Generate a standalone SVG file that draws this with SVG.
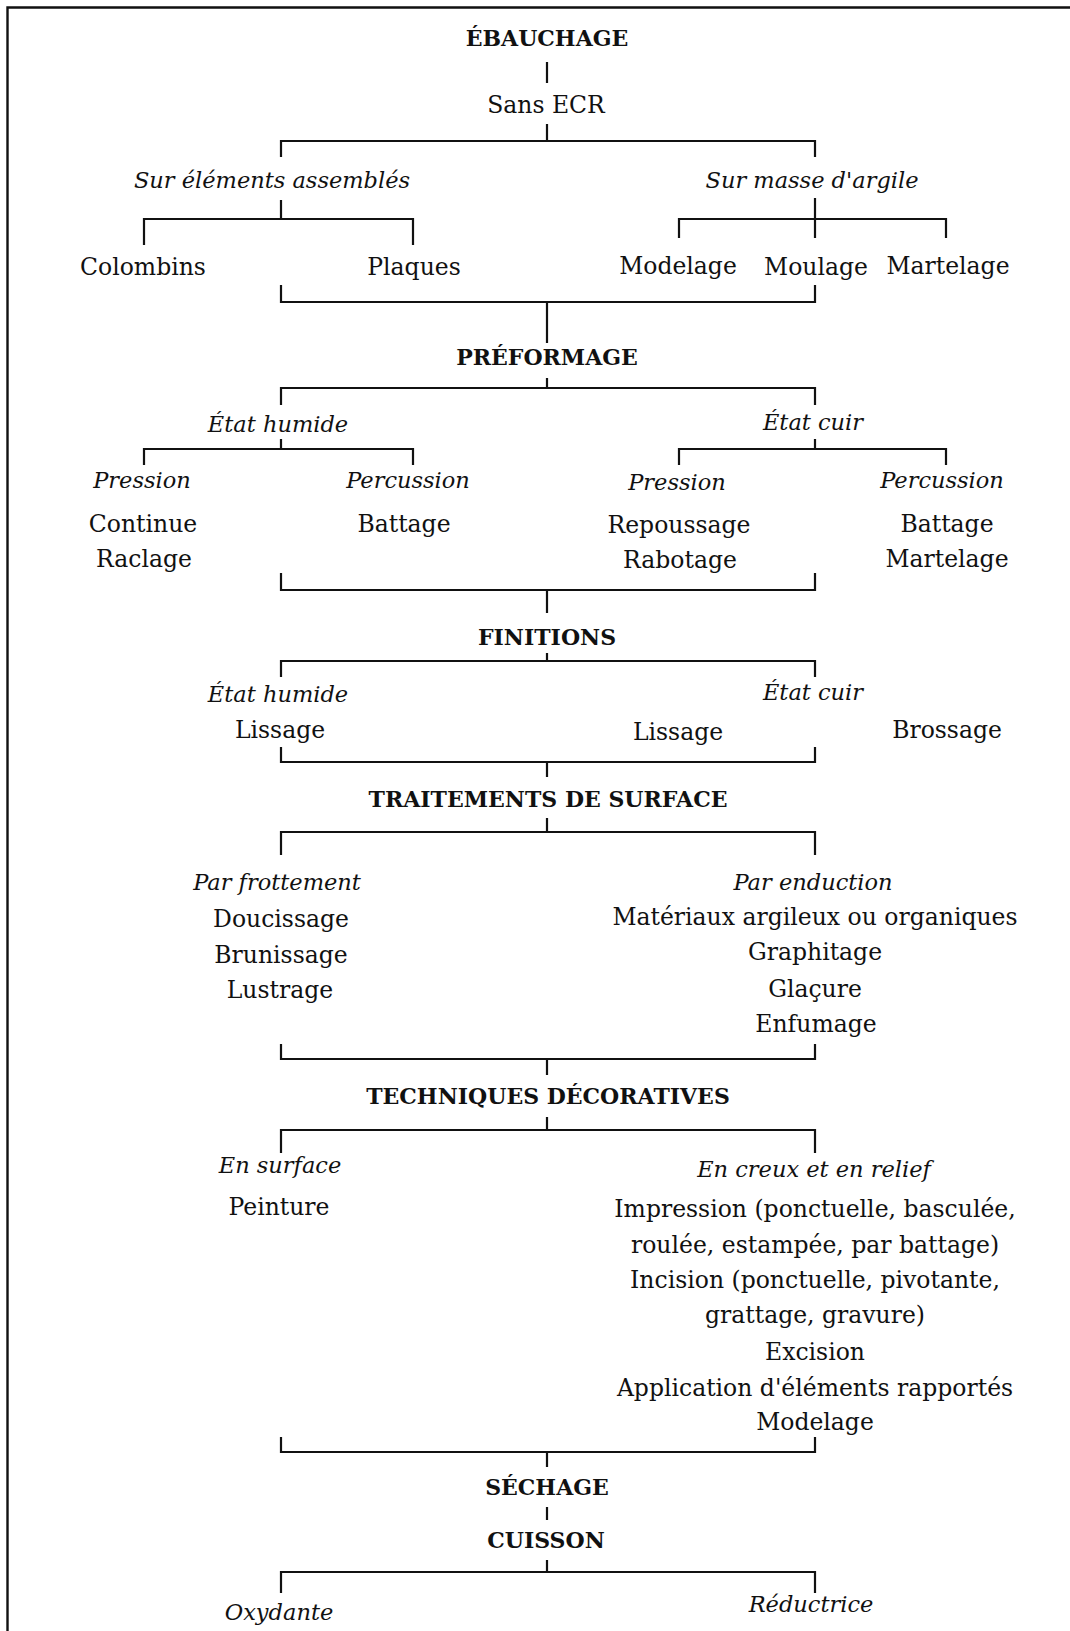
<svg xmlns="http://www.w3.org/2000/svg" width="1070" height="1631" viewBox="0 0 1070 1631">
<style>
text{font-family:"DejaVu Serif","Liberation Serif",serif;fill:#111;text-anchor:middle}
.h{font-weight:bold;font-size:22px}
.r{font-size:23.5px}
.i{font-style:italic;font-size:22.5px}
.c{stroke:#111;stroke-width:2.2;fill:none}
</style>
<rect width="1070" height="1631" fill="#fff"/>
<path d="M7.5 1631V7.5H1070" stroke="#111" stroke-width="2.4" fill="none"/>
<g id="connectors" class="c">
<path d="M547 62V83M547 124V141M281 157V141H815V157"/>
<path d="M281 200V219M144 245V219H413V245"/>
<path d="M815 198V238M679 238V219H946V238"/>
<path d="M281 285V302H815V285M547 302V343"/>
<path d="M547 378V388M281 405V388H815V405"/>
<path d="M281 439V449M144 465V449H413V465"/>
<path d="M815 439V449M679 465V449H946V465"/>
<path d="M281 573V590H815V573M547 590V613"/>
<path d="M547 653V661M281 677V661H815V677"/>
<path d="M281 747V762H815V747M547 762V777"/>
<path d="M547 818V832M281 855V832H815V855"/>
<path d="M281 1044V1059H815V1044M547 1059V1075"/>
<path d="M547 1117V1130M281 1153V1130H815V1153"/>
<path d="M281 1437V1452H815V1437M547 1452V1467"/>
<path d="M547 1507V1520"/>
<path d="M547 1560V1572M281 1593V1572H815V1593"/>
</g>
<g id="ebauchage"><text class="h" x="547" y="46">ÉBAUCHAGE</text></g>
<g id="sans-ecr"><text class="r" x="546" y="113">Sans ECR</text></g>
<g id="sur-elements"><text class="i" x="272" y="188">Sur éléments assemblés</text></g>
<g id="sur-masse"><text class="i" x="812" y="188">Sur masse d'argile</text></g>
<g id="colombins"><text class="r" x="143" y="275">Colombins</text></g>
<g id="plaques"><text class="r" x="414" y="275">Plaques</text></g>
<g id="modelage1"><text class="r" x="678" y="274">Modelage</text></g>
<g id="moulage"><text class="r" x="816" y="275">Moulage</text></g>
<g id="martelage1"><text class="r" x="948" y="274">Martelage</text></g>
<g id="preformage"><text class="h" x="547" y="365">PRÉFORMAGE</text></g>
<g id="etat-humide1"><text class="i" x="278" y="432">État humide</text></g>
<g id="etat-cuir1"><text class="i" x="813" y="430">État cuir</text></g>
<g id="pression1"><text class="i" x="142" y="488">Pression</text></g>
<g id="percussion1"><text class="i" x="408" y="488">Percussion</text></g>
<g id="pression2"><text class="i" x="677" y="490">Pression</text></g>
<g id="percussion2"><text class="i" x="942" y="488">Percussion</text></g>
<g id="continue"><text class="r" x="143" y="532">Continue</text><text class="r" x="144" y="567">Raclage</text></g>
<g id="battage1"><text class="r" x="404" y="532">Battage</text></g>
<g id="repoussage"><text class="r" x="679" y="533">Repoussage</text><text class="r" x="680" y="568">Rabotage</text></g>
<g id="battage2"><text class="r" x="947" y="532">Battage</text><text class="r" x="947" y="567">Martelage</text></g>
<g id="finitions"><text class="h" x="547" y="645">FINITIONS</text></g>
<g id="etat-humide2"><text class="i" x="278" y="702">État humide</text></g>
<g id="etat-cuir2"><text class="i" x="813" y="700">État cuir</text></g>
<g id="lissage1"><text class="r" x="280" y="738">Lissage</text></g>
<g id="lissage2"><text class="r" x="678" y="740">Lissage</text></g>
<g id="brossage"><text class="r" x="947" y="738">Brossage</text></g>
<g id="traitements"><text class="h" x="548" y="807">TRAITEMENTS DE SURFACE</text></g>
<g id="par-frottement"><text class="i" x="277" y="890">Par frottement</text>
<text class="r" x="281" y="927">Doucissage</text><text class="r" x="281" y="963">Brunissage</text><text class="r" x="280" y="998">Lustrage</text></g>
<g id="par-enduction"><text class="i" x="813" y="890">Par enduction</text>
<text class="r" x="815" y="925">Matériaux argileux ou organiques</text><text class="r" x="815" y="960">Graphitage</text><text class="r" x="815" y="997">Glaçure</text><text class="r" x="816" y="1032">Enfumage</text></g>
<g id="techniques"><text class="h" x="548" y="1104">TECHNIQUES DÉCORATIVES</text></g>
<g id="en-surface"><text class="i" x="280" y="1173">En surface</text><text class="r" x="279" y="1215">Peinture</text></g>
<g id="en-creux"><text class="i" x="814" y="1177">En creux et en relief</text>
<text class="r" x="815" y="1217">Impression (ponctuelle, basculée,</text>
<text class="r" x="815" y="1253">roulée, estampée, par battage)</text>
<text class="r" x="815" y="1288">Incision (ponctuelle, pivotante,</text>
<text class="r" x="815" y="1323">grattage, gravure)</text>
<text class="r" x="815" y="1360">Excision</text>
<text class="r" x="815" y="1396">Application d'éléments rapportés</text>
<text class="r" x="815" y="1430">Modelage</text></g>
<g id="sechage"><text class="h" x="547" y="1495">SÉCHAGE</text></g>
<g id="cuisson"><text class="h" x="546" y="1548">CUISSON</text></g>
<g id="oxydante"><text class="i" x="279" y="1620">Oxydante</text></g>
<g id="reductrice"><text class="i" x="811" y="1612">Réductrice</text></g>
</svg>
